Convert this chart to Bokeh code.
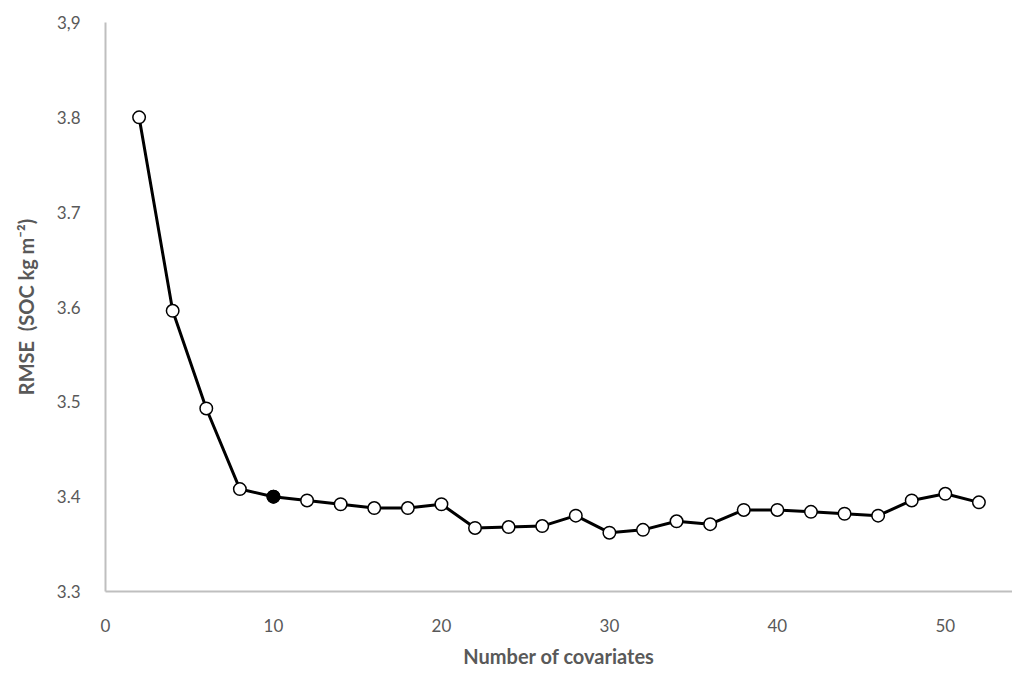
from bokeh.plotting import figure
from bokeh.models import Range1d, FixedTicker
from bokeh.embed import file_html
from bokeh.resources import INLINE

# Data
covariates = [2, 4, 6, 8, 10, 12, 14, 16, 18, 20, 22, 24, 26, 28, 30, 32, 34, 36, 38, 40, 42, 44, 46, 48, 50, 52]
rmse = [3.800, 3.596, 3.493, 3.408, 3.400, 3.396, 3.392, 3.388, 3.388, 3.392, 3.367, 3.368, 3.369,
        3.380, 3.362, 3.365, 3.374, 3.371, 3.386, 3.386, 3.384, 3.382, 3.380, 3.396, 3.403, 3.394]
best_x = [10]
best_y = [3.400]
x_ticks = [0, 10, 20, 30, 40, 50]
y_ticks = [3.3, 3.4, 3.5, 3.6, 3.7, 3.8, 3.9]
y_tick_labels = {3.3: "3.3", 3.4: "3.4", 3.5: "3.5", 3.6: "3.6", 3.7: "3.7", 3.8: "3.8", 3.9: "3,9"}

FONT = "Lato"
GREY = "#595959"

p = figure(width=1012, height=670, output_backend="svg", toolbar_location=None,
           x_range=Range1d(0, 54.0), y_range=Range1d(3.3, 3.9),
           min_border_left=105, min_border_right=0, min_border_top=22, min_border_bottom=74)
p.outline_line_color = None
p.xgrid.visible = False
p.ygrid.visible = False

p.line(covariates, rmse, line_color="black", line_width=3)
p.scatter(covariates, rmse, size=12.5, fill_color="white", line_color="black", line_width=1.5)
p.scatter(best_x, best_y, size=12.5, fill_color="black", line_color="black", line_width=1.5)

for ax in (p.xaxis[0], p.yaxis[0]):
    ax.axis_line_color = "#bfbfbf"
    ax.axis_line_width = 2
    ax.major_tick_line_color = None
    ax.minor_tick_line_color = None
    ax.major_label_text_font = FONT
    ax.major_label_text_font_size = "17px"
    ax.major_label_text_color = GREY
    ax.axis_label_text_font = FONT
    ax.axis_label_text_font_size = "20px"
    ax.axis_label_text_font_style = "bold"
    ax.axis_label_text_color = GREY

p.xaxis.ticker = FixedTicker(ticks=x_ticks)
p.yaxis.ticker = FixedTicker(ticks=y_ticks)
p.yaxis.major_label_overrides = y_tick_labels
p.xaxis.major_label_standoff = 21
p.yaxis.major_label_standoff = 19
p.xaxis.axis_label = "Number of covariates"
p.yaxis.axis_label = "RMSE\u00a0 (SOC kg m\u207b\u00b2)"
p.xaxis.axis_label_standoff = 9
p.yaxis.axis_label_standoff = 16

open("out.html", "w").write(file_html(p, INLINE))
